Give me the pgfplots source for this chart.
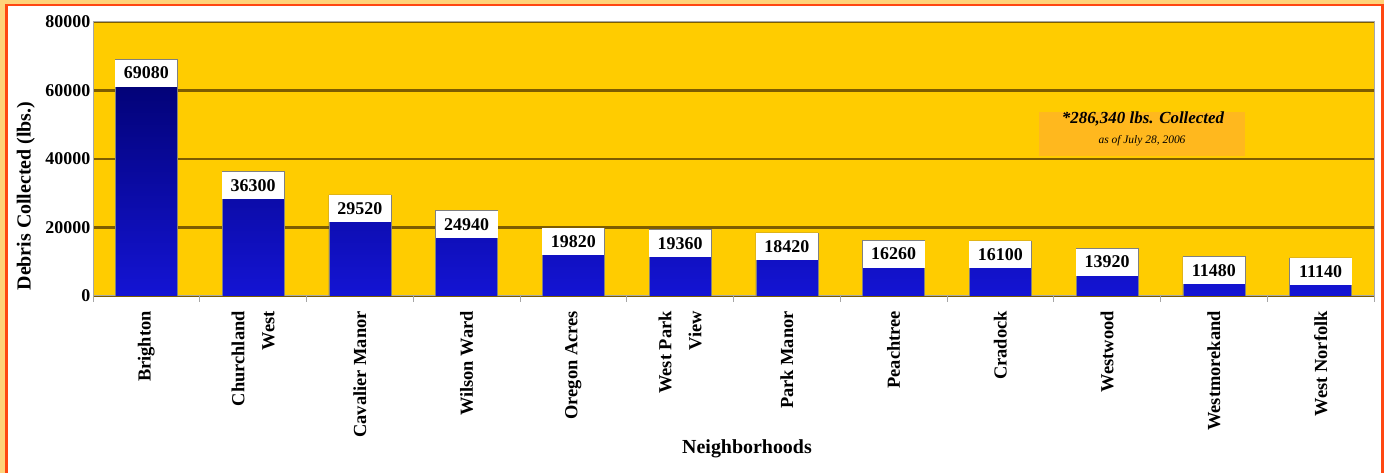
\documentclass[border=0pt]{standalone}
\usepackage{fontspec}
\setmainfont{Liberation Serif}
\usepackage{pgfplots}
\pgfplotsset{compat=1.18}

\definecolor{gold}{HTML}{FFCC00}
\definecolor{gridbrown}{HTML}{7D5C00}
\definecolor{barnavy}{HTML}{00006C}
\definecolor{barblue}{HTML}{1414D4}
\definecolor{framered}{HTML}{FF4712}
\definecolor{framepeach}{HTML}{FFD37A}
\definecolor{notefill}{HTML}{FFB81E}
\newcommand{\fs}[1]{\fontsize{#1}{#1}\selectfont}

\begin{document}
\begin{tikzpicture}[x=1bp,y=1bp]
\useasboundingbox (0,0) rectangle (1387,473);
% frame
\fill[framepeach] (0,0) rectangle (1387,473);
\fill[framered] (5,-5) rectangle (1383.5,469);
\fill[white] (7.5,-5) rectangle (1381,466.5);
\fill[white] (1383.5,-5) rectangle (1387,473);

\begin{axis}[
    at={(93bp,177bp)}, anchor=south west,
    scale only axis, width=1281bp, height=274bp,
    ybar,
    xmin=-0.5, xmax=11.5,
    ymin=0, ymax=80000,
    ytick={0,20000,40000,60000,80000},
    scaled y ticks=false,
    /pgf/number format/1000 sep={},
    /pgf/number format/assume math mode=true,
    ymajorgrids=true,
    grid style={gridbrown, line width=2.5bp},
    axis background/.style={fill=gold},
    axis line style={black!35, line width=1bp},
    xtick pos=bottom, ytick pos=left,
    xtick={0,...,11},
    xticklabels={Brighton, {Churchland\\West}, Cavalier Manor, Wilson Ward,
        Oregon Acres, {West Park\\View}, Park Manor, Peachtree, Cradock,
        Westwood, Westmorekand, West Norfolk},
    minor xtick={-0.5,0.5,...,11.5},
    major tick length=0pt,
    minor tick length=6bp,
    tick align=outside,
    minor tick style={black!35, line width=1bp},
    xticklabel style={rotate=90, anchor=east, align=right,
        font=\bfseries\fontsize{18.5}{30}\selectfont, inner sep=0pt},
    xticklabel shift=15bp,
    yticklabel style={font=\bfseries\fs{18}, inner sep=2.5bp},
    nodes near coords,
    nodes near coords align={anchor=north},
    every node near coord/.append style={anchor=north, fill=white,
        text=black, font=\bfseries\fs{18}, minimum width=62bp,
        minimum height=27bp, inner sep=0pt},
]
\addplot[bar width=62bp, draw=black!50, top color=barnavy, bottom color=barblue]
coordinates {
    (0,69080) (1,36300) (2,29520) (3,24940) (4,19820) (5,19360)
    (6,18420) (7,16260) (8,16100) (9,13920) (10,11480) (11,11140)
};
\end{axis}

% note box
\fill[notefill] (1039,317) rectangle (1245,361);
\node[anchor=base, inner sep=0pt] at (1143,349) {\bfseries\itshape\fs{17}*286,340 lbs. Collected};
\node[anchor=base, inner sep=0pt] at (1142,329) {\itshape\fs{11.5}as of July 28, 2006};

% axis titles
\node[anchor=base, inner sep=0pt] at (747,19) {\bfseries\fs{20}Neighborhoods};
\node[rotate=90, anchor=base, inner sep=0pt] at (30.5,277) {\bfseries\fs{20}Debris Collected (lbs.)};
\end{tikzpicture}
\end{document}
